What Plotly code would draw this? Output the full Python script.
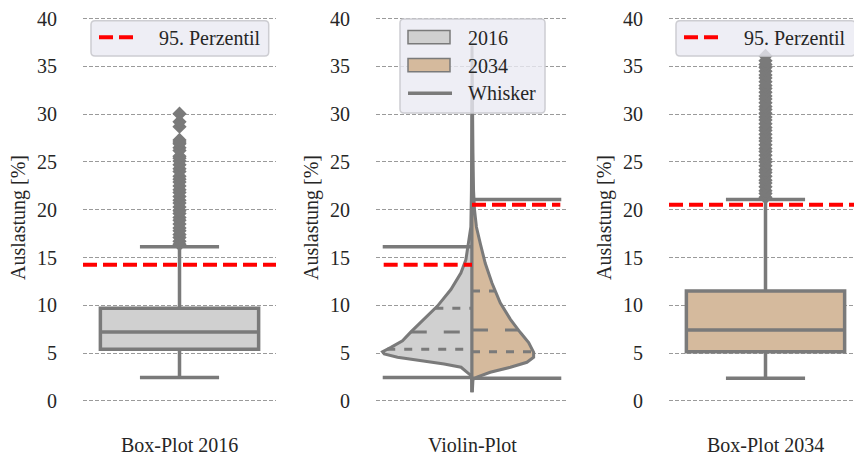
import numpy as np
import plotly.graph_objects as go

# ---------------- data ----------------
panel_titles = ["Box-Plot 2016", "Violin-Plot", "Box-Plot 2034"]
years = ["2016", "2034"]
y_ticks = [0, 5, 10, 15, 20, 25, 30, 35, 40]
y_title = "Auslastung [%]"
legend_p95 = "95. Perzentil"
legend_whisker = "Whisker"

q1 = [5.40, 5.15]
median = [7.20, 7.43]
q3 = [9.70, 11.50]
whisker_low = [2.45, 2.38]
whisker_high = [16.13, 21.07]
p95 = [14.24, 20.52]

outliers_2016 = [16.4, 16.7, 17.1, 17.4, 17.8, 18.1, 18.5, 18.9, 19.2, 19.6,
                 19.9, 20.3, 20.7, 21.0, 21.4, 21.8, 22.1, 22.5, 22.9, 23.2,
                 23.5, 24.0, 24.3, 24.7, 25.1, 25.4, 25.6, 26.2, 26.5, 26.9,
                 27.1, 27.3, 28.7, 29.2, 30.05]
outliers_2034 = [21.3, 21.7, 22.0, 22.4, 22.8, 23.1, 23.5, 23.9, 24.2, 24.6,
                 25.0, 25.3, 25.7, 26.1, 26.4, 26.8, 27.2, 27.5, 27.9, 28.3,
                 28.6, 29.0, 29.4, 29.7, 30.1, 30.5, 30.8, 31.2, 31.6, 31.9,
                 32.3, 32.7, 33.0, 33.4, 33.8, 34.1, 34.5, 34.9, 35.2, 35.6,
                 36.1]

# violin half-density outlines (value, half-width in category units)
violin_2016_y = [0.9, 1.5, 2.2, 2.66, 3.52, 3.87, 4.22, 4.56, 4.91, 5.15, 5.6,
                 6.29, 7.22, 8.54, 9.92, 11.65, 13.37, 14.76, 16.83, 18.2, 22.0,
                 26.0, 30.0, 31.5]
violin_2016_w = [0.0016, 0.0016, 0.002, 0.006, 0.057, 0.145, 0.266, 0.388,
                 0.457, 0.466, 0.422, 0.362, 0.318, 0.249, 0.180, 0.110, 0.058,
                 0.032, 0.015, 0.006, 0.003, 0.002, 0.0016, 0.0]
violin_2034_y = [0.9, 1.5, 2.25, 2.49, 3.0, 3.52, 4.04, 4.56, 5.08, 6.11, 7.15,
                 8.54, 10.26, 12.33, 14.4, 16.48, 18.2, 20.0, 22.0, 26.0, 30.0,
                 34.0, 37.2]
violin_2034_w = [0.0016, 0.0016, 0.005, 0.026, 0.095, 0.200, 0.286, 0.321,
                 0.321, 0.295, 0.252, 0.200, 0.147, 0.104, 0.069, 0.043, 0.023,
                 0.013, 0.008, 0.005, 0.004, 0.003, 0.0]

# ---------------- style / geometry (window pixels) ----------------
GRAY = "#7a7a7a"
FILLS = ["#d0d0d0", "#d5ba9d"]
RED = "#ff0000"
FONT = "Liberation Serif"
TXT = "#262626"
LEG_BG = "rgba(234,234,242,0.8)"
LEG_BORDER = "#cdcdd2"
OFF = 8                       # page body margin of the html page
W, H = 862 - OFF, 456 - OFF   # figure size
TOP, BOT = 10, 420            # plot area rows (window pixels)
DOMS = [(83, 276), (376, 568), (669, 862)]
RED_DASH = "14px,6px"


def px(x):
    return (x - OFF) / W


def py(y):
    return (BOT - y) / (BOT - TOP)


fig = go.Figure()

# ---------- box plots ----------
for i, (ax, outl) in enumerate([("", outliers_2016), ("3", outliers_2034)]):
    xa, ya = "x" + ax, "y" + ax
    fig.add_trace(go.Box(
        x=[0], q1=[q1[i]], median=[median[i]], q3=[q3[i]],
        lowerfence=[whisker_low[i]], upperfence=[whisker_high[i]],
        width=0.82, whiskerwidth=0.5, fillcolor=FILLS[i],
        line=dict(color=GRAY, width=3.5), boxpoints=False,
        showlegend=False, hoverinfo="skip", xaxis=xa, yaxis=ya, name=years[i]))
    fig.add_trace(go.Scatter(
        x=[0] * len(outl), y=outl, mode="markers",
        marker=dict(symbol="diamond", size=11, color=GRAY, line=dict(width=0)),
        showlegend=False, hoverinfo="skip", xaxis=xa, yaxis=ya))
    fig.add_trace(go.Scatter(
        x=[-0.5, 0.5], y=[p95[i], p95[i]], mode="lines",
        line=dict(color=RED, width=4, dash=RED_DASH),
        name=legend_p95, showlegend=False,
        hoverinfo="skip", xaxis=xa, yaxis=ya))

# ---------- split violin ----------
for side, (vy, vw) in enumerate([(violin_2016_y, violin_2016_w),
                                  (violin_2034_y, violin_2034_w)]):
    sgn = -1 if side == 0 else 1
    xs = [sgn * w for w in vw] + [0, 0]
    ys = list(vy) + [vy[-1], vy[0]]
    fig.add_trace(go.Scatter(
        x=xs, y=ys, mode="lines", fill="toself", fillcolor=FILLS[side],
        line=dict(color=GRAY, width=3), name=years[side], showlegend=False,
        hoverinfo="skip", xaxis="x2", yaxis="y2"))
    for q, dash in [(q1[side], "8px,9px"), (median[side], "16px,17px"),
                    (q3[side], "8px,9px")]:
        d = float(np.interp(q, vy, vw))
        xs = [-d, 0] if side == 0 else [0, d]
        fig.add_trace(go.Scatter(
            x=xs, y=[q, q], mode="lines",
            line=dict(color=GRAY, width=3, dash=dash),
            showlegend=False, hoverinfo="skip", xaxis="x2", yaxis="y2"))

for side in range(2):
    xs = [-0.465, 0] if side == 0 else [0, 0.465]
    for val in (whisker_low[side], whisker_high[side]):
        fig.add_trace(go.Scatter(
            x=xs, y=[val, val], mode="lines",
            line=dict(color=GRAY, width=3.5), name=legend_whisker,
            showlegend=False, hoverinfo="skip", xaxis="x2", yaxis="y2"))
    xs = [-0.46, 0] if side == 0 else [0, 0.46]
    fig.add_trace(go.Scatter(
        x=xs, y=[p95[side], p95[side]], mode="lines",
        line=dict(color=RED, width=4, dash=RED_DASH), name=legend_p95,
        showlegend=False, hoverinfo="skip", xaxis="x2", yaxis="y2"))

# ---------- axes ----------
ppu = (400.7 - 14.7) / 40.0
yrange = [-(BOT - 400.7) / ppu, 40 + (14.7 - TOP) / ppu]
layout = dict(width=W, height=H,
              margin=dict(l=0, r=0, t=TOP - OFF, b=H + OFF - BOT, pad=0),
              paper_bgcolor="white", plot_bgcolor="white",
              font=dict(family=FONT, size=20, color=TXT), showlegend=False)
for k, (a, b) in enumerate(DOMS):
    sfx = "" if k == 0 else str(k + 1)
    layout["xaxis" + sfx] = dict(domain=[px(a), min(px(b), 1.0)],
                                 range=[-0.5, 0.5],
                                 showticklabels=False, showgrid=False,
                                 zeroline=False, showline=False, ticks="",
                                 anchor="y" + sfx)
    layout["yaxis" + sfx] = dict(range=yrange, tickvals=y_ticks,
                                 ticktext=[str(t) for t in y_ticks],
                                 showgrid=True, gridcolor="#9a9a9a",
                                 griddash="4px,2px", gridwidth=1,
                                 zeroline=False, showline=False,
                                 ticks="outside", ticklen=21,
                                 tickcolor="rgba(0,0,0,0)",
                                 ticklabeloverflow="allow",
                                 tickfont=dict(size=20, color=TXT),
                                 anchor="x" + sfx)
fig.update_layout(**layout)

# ---------- titles ----------
for k, (a, b) in enumerate(DOMS):
    fig.add_annotation(text=panel_titles[k], xref="paper", yref="paper",
                       x=px((a + b) / 2), y=py(445), xanchor="center",
                       yanchor="middle", showarrow=False,
                       font=dict(size=20, family=FONT, color=TXT))
    fig.add_annotation(text=y_title, xref="paper", yref="paper",
                       x=px(a - 64), y=py(216), xanchor="center",
                       yanchor="middle", textangle=-90, showarrow=False,
                       font=dict(size=20, family=FONT, color=TXT))


# ---------- legends (drawn as boxes, samples and text) ----------
def rrect(x0, y0, x1, y1, r=4):
    pts = [("M", x0 + r, y0), ("L", x1 - r, y0), ("Q", x1, y0, x1, y0 + r),
           ("L", x1, y1 - r), ("Q", x1, y1, x1 - r, y1), ("L", x0 + r, y1),
           ("Q", x0, y1, x0, y1 - r), ("L", x0, y0 + r),
           ("Q", x0, y0, x0 + r, y0)]
    s = ""
    for p in pts:
        s += p[0]
        coords = p[1:]
        for j in range(0, len(coords), 2):
            s += "%.5f,%.5f " % (px(coords[j]), py(coords[j + 1]))
    return s + "Z"


shapes = []


def legend_box(x0, y0, x1, y1):
    shapes.append(dict(type="path", xref="paper", yref="paper",
                       path=rrect(x0, y0, x1, y1), fillcolor=LEG_BG,
                       line=dict(color=LEG_BORDER, width=1.5), layer="above"))


def legend_text(txt, x, yc):
    fig.add_annotation(text=txt, xref="paper", yref="paper", x=px(x),
                       y=py(yc), xanchor="left", yanchor="middle",
                       showarrow=False,
                       font=dict(size=20, family=FONT, color=TXT))


# percentile legends (panel 1 and 3)
for (bx0, bx1) in [(91, 268.7), (676, 855.3)]:
    legend_box(bx0, 16.7, bx1, 52.3)
    shapes.append(dict(type="line", xref="paper", yref="paper",
                       x0=px(bx0 + 8), x1=px(bx0 + 46), y0=py(33.5),
                       y1=py(33.5), line=dict(color=RED, width=4,
                                              dash=RED_DASH), layer="above"))
    legend_text(legend_p95, bx0 + 66, 34)

# violin legend
legend_box(400, 15, 545, 110)
for j, yc in enumerate([33.3, 61.7]):
    shapes.append(dict(type="rect", xref="paper", yref="paper", x0=px(408),
                       x1=px(450), y0=py(yc - 6.7), y1=py(yc + 6.7),
                       fillcolor=FILLS[j], line=dict(color=GRAY, width=1.5),
                       layer="above"))
shapes.append(dict(type="line", xref="paper", yref="paper", x0=px(408),
                   x1=px(452), y0=py(90), y1=py(90),
                   line=dict(color=GRAY, width=3.5), layer="above"))
fig.update_layout(shapes=shapes)
for txt, yc in [(years[0], 33.8), (years[1], 62.2), (legend_whisker, 90)]:
    legend_text(txt, 466, yc)

fig.write_html("out.html")
